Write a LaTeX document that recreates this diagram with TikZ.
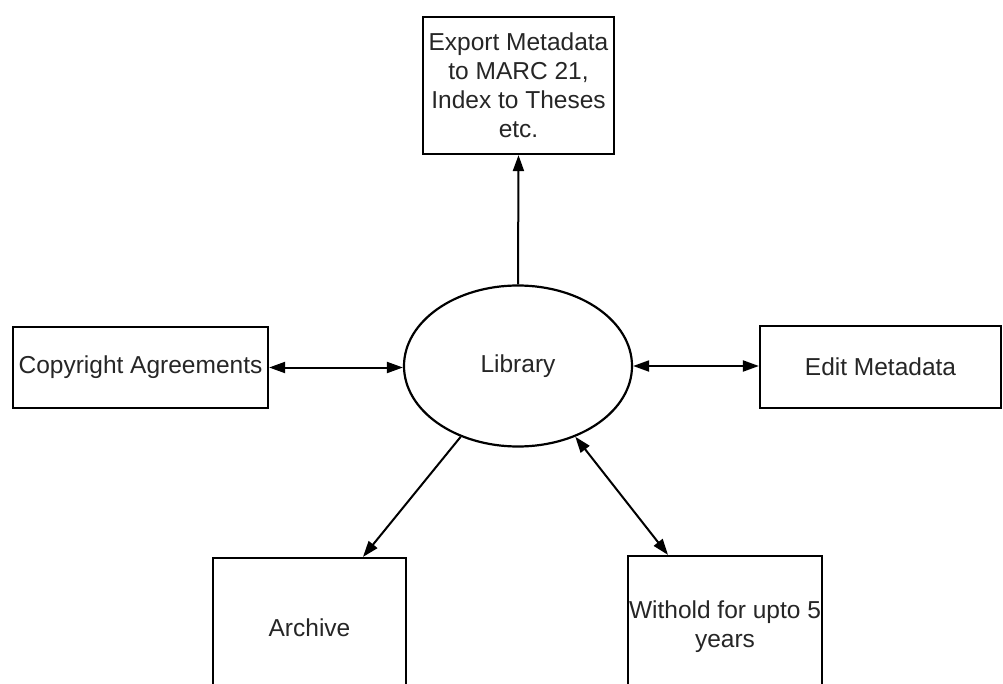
\documentclass[tikz,border=0pt]{standalone}
\usepackage{fontspec}
\setmainfont{Liberation Sans}
\usetikzlibrary{arrows.meta,shapes.geometric}
\begin{document}
\begin{tikzpicture}[x=1pt,y=-1pt,
  box/.style={draw, line width=2.2pt, inner sep=0pt, align=center,
    font=\fontsize{24.5}{29}\selectfont, text=black!85},
  conn/.style={line width=2pt, -{Triangle[length=16pt,width=11pt]}},
  biconn/.style={line width=2pt, {Triangle[length=16pt,width=11pt]}-{Triangle[length=16pt,width=11pt]}}]
\useasboundingbox (0,0) rectangle (1003,684);
\clip (0,0) rectangle (1003,684);
\fill[white] (0,0) rectangle (1003,684);
\node[box, ellipse, minimum width=228pt, minimum height=161pt] (lib) at (518,366) {Library};
\node[box, minimum width=191pt, minimum height=137pt] (exp) at (518.5,85.5) {Export Metadata\\to MARC 21,\\Index to Theses\\etc.};
\node[box, minimum width=255pt, minimum height=81pt] (copy) at (140.5,367.5) {Copyright Agreements};
\node[box, minimum width=241pt, minimum height=82pt] (edit) at (880.5,367) {Edit Metadata};
\node[box, minimum width=193pt, minimum height=140pt] (arch) at (309.5,628) {Archive};
\node[box, minimum width=194pt, minimum height=142pt] (wh) at (725,627) {Withold for upto 5\\years};
\draw[conn] (lib.north) -- (exp.south);
\draw[biconn] (copy.east) -- (copy.east -| lib.west);
\draw[biconn] (lib.east) -- (lib.east -| edit.west);
\draw[conn] (lib.231) -- ([xshift=53.5pt]arch.north);
\draw[biconn] (lib.309) -- ([xshift=-57pt]wh.north);
\end{tikzpicture}
\end{document}
